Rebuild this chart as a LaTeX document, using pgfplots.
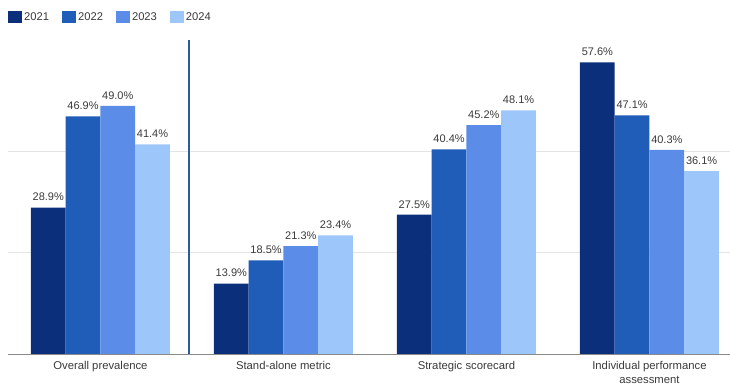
\documentclass[border=0pt]{standalone}
\usepackage{pgfplots}
\pgfplotsset{compat=1.18}
\usepackage{fontspec}
\setmainfont{Liberation Sans}
\definecolor{c21}{HTML}{0B2F7A}
\definecolor{c22}{HTML}{1F5DB8}
\definecolor{c23}{HTML}{5B8DE8}
\definecolor{c24}{HTML}{9DC6FA}
\definecolor{sepblue}{HTML}{2A5A9F}
\definecolor{txt}{HTML}{3A3A3A}
\definecolor{gridc}{HTML}{E4E4E4}
\definecolor{axc}{HTML}{8A8A8A}
\pgfplotsset{
  barplot/.style={
    fill=#1, draw=none,
    nodes near coords={\pgfmathprintnumber[fixed,fixed zerofill,precision=1]{\pgfplotspointmeta}\%},
    every node near coord/.append style={font=\fontsize{11}{12}\selectfont, text=txt, yshift=3pt},
    legend image code/.code={\fill[##1] (0pt,-6pt) rectangle (14pt,6pt);},
  },
}
\begin{document}
\begin{tikzpicture}[x=1pt,y=1pt]
\path[use as bounding box] (0,0) rectangle (730,387);
\begin{axis}[
  at={(8pt,33pt)}, anchor=south west,
  scale only axis, width=722pt, height=314pt,
  xmin=-0.505, xmax=3.44, ymin=0, ymax=62,
  ybar=0pt, bar width=34.75pt,
  axis x line*=bottom, axis y line*=left,
  x axis line style={draw=axc, line width=0.8pt},
  y axis line style={draw=none},
  ytick={20,40}, yticklabels={}, ytick style={draw=none},
  ymajorgrids, grid style={draw=gridc, line width=0.8pt},
  xtick={0,1,2,3}, major tick length=0pt,
  xticklabels={Overall prevalence, Stand-alone metric, Strategic scorecard, {Individual performance\\assessment}},
  xticklabel style={align=center, font=\fontsize{11.3}{13.3}\selectfont, text=txt, yshift=-4pt},
  /pgf/number format/assume math mode=true,
  legend columns=4,
  legend style={at={(0,1)}, anchor=west, yshift=23pt, draw=none, fill=none, inner sep=0pt,
    font=\fontsize{11.2}{12}\selectfont, text=txt,
    /tikz/every even column/.append style={column sep=11pt}},
  clip=false,
]
\addplot[barplot=c21] coordinates {(0,28.9) (1,13.9) (2,27.5) (3,57.6)};
\addplot[barplot=c22] coordinates {(0,46.9) (1,18.5) (2,40.4) (3,47.1)};
\addplot[barplot=c23] coordinates {(0,49.0) (1,21.3) (2,45.2) (3,40.3)};
\addplot[barplot=c24] coordinates {(0,41.4) (1,23.4) (2,48.1) (3,36.1)};
\legend{2021,2022,2023,2024}
\addplot[sharp plot, draw=sepblue, line width=2pt, forget plot, mark=none] coordinates {(0.484,0) (0.484,62)};
\end{axis}
\end{tikzpicture}
\end{document}
